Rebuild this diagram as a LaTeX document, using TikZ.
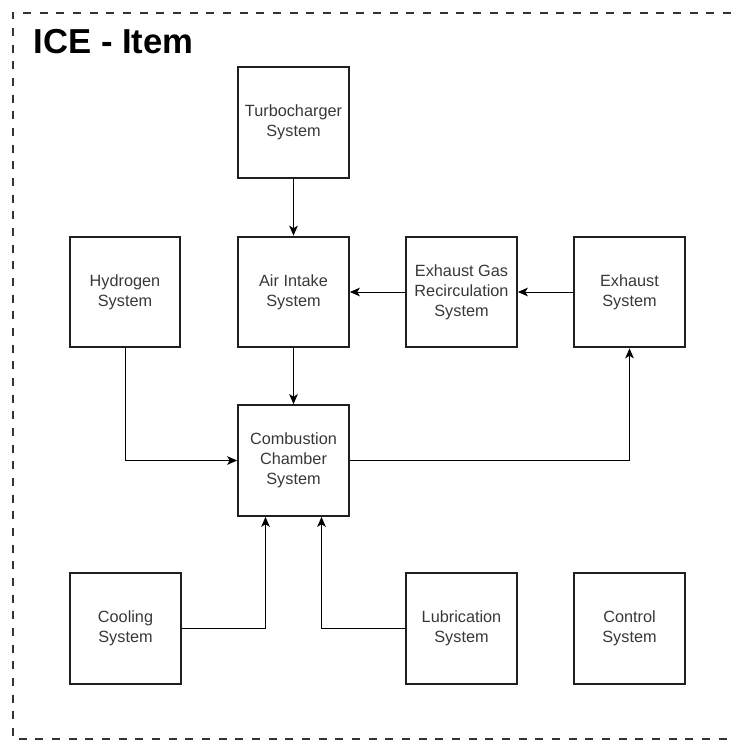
\documentclass[tikz,border=0pt]{standalone}
\usepackage{fontspec}
\setmainfont{Liberation Sans}
\usetikzlibrary{arrows.meta}
\begin{document}
\begin{tikzpicture}[x=0.75pt,y=-0.75pt,
  sysbox/.style={draw=black!88, line width=1.6pt, minimum width=83pt, minimum height=83pt,
    inner sep=0pt, align=center, font=\fontsize{12.2}{15}\selectfont, text=black!78},
  conn/.style={line width=0.75pt, draw=black, -{Stealth[length=7.5pt,width=6.5pt,inset=2pt]}},
  frame/.style={draw=black!80, line width=1.5pt, dash pattern=on 6pt off 6.5pt}]
\useasboundingbox (0,0) rectangle (731,740);
\draw[frame] (731,13) -- (12.5,13) -- (12.5,738.5) -- (731,738.5);
\node[anchor=base west, font=\bfseries\fontsize{26}{30}\selectfont] (title) at (29,53) {ICE - Item};

\node[sysbox] (turbo) at (293.5,122.5) {Turbocharger\\System};
\node[sysbox] (hyd)   at (125,292)     {Hydrogen\\System};
\node[sysbox] (air)   at (293.5,292)   {Air Intake\\System};
\node[sysbox] (egr)   at (461.5,292)   {Exhaust Gas\\Recirculation\\System};
\node[sysbox] (exh)   at (629.5,292)   {Exhaust\\System};
\node[sysbox] (comb)  at (293.5,460.5) {Combustion\\Chamber\\System};
\node[sysbox] (cool)  at (125.5,628.5) {Cooling\\System};
\node[sysbox] (lub)   at (461.5,628.5) {Lubrication\\System};
\node[sysbox] (ctrl)  at (629.5,628.5) {Control\\System};

\draw[conn] (turbo) -- (air);
\draw[conn] (egr) -- (air);
\draw[conn] (exh) -- (egr);
\draw[conn] (air) -- (comb);
\draw[conn] (hyd.south) |- (comb.west);
\draw[conn] (comb.east) -| (exh.south);
\draw[conn] (cool.east) -| ([xshift=-21pt]comb.south);
\draw[conn] (lub.west) -| ([xshift=21pt]comb.south);
\end{tikzpicture}
\end{document}
